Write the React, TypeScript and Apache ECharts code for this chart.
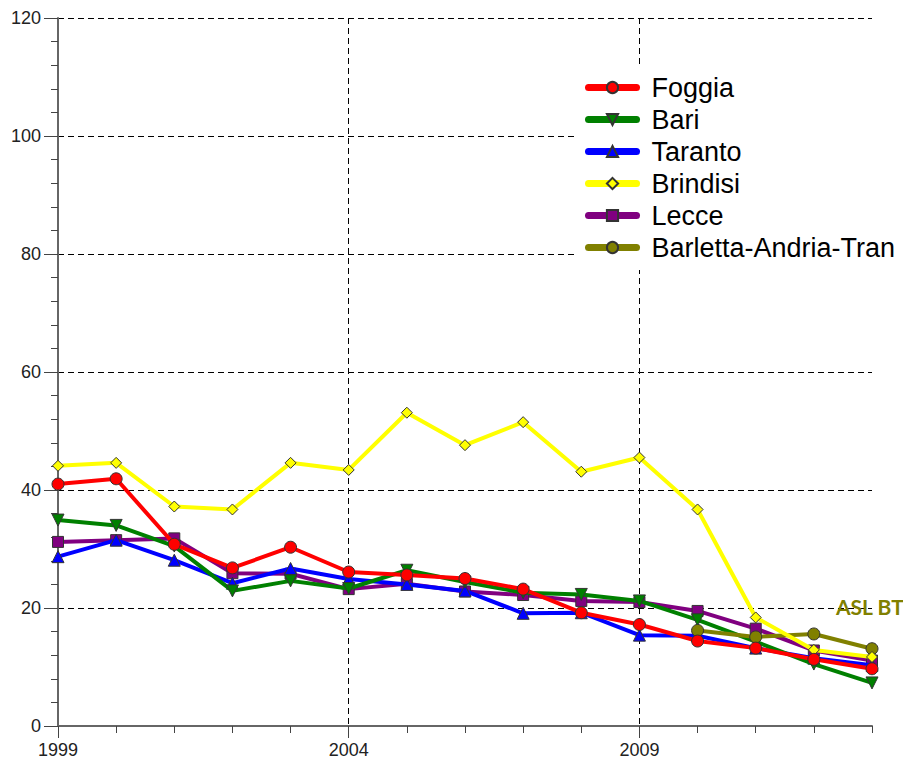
import React, { useEffect, useRef } from "react";
import * as echarts from "echarts";

const years = ["1999","2000","2001","2002","2003","2004","2005","2006","2007","2008","2009","2010","2011","2012","2013"];
const foggia = [41.0, 41.9, 30.8, 26.8, 30.3, 26.1, 25.6, 25.0, 23.2, 19.2, 17.2, 14.4, 13.2, 11.3, 9.7];
const bari = [34.9, 34.0, 30.5, 22.9, 24.6, 23.3, 26.4, 24.4, 22.6, 22.3, 21.2, 18.0, 14.3, 10.5, 7.3];
const taranto = [28.7, 31.5, 28.1, 24.2, 26.7, 24.9, 24.0, 22.9, 19.1, 19.2, 15.4, 15.3, 13.2, 11.5, 10.3];
const brindisi = [44.1, 44.6, 37.2, 36.7, 44.6, 43.4, 53.1, 47.6, 51.5, 43.1, 45.5, 36.7, 18.4, 12.9, 11.7];
const lecce = [31.2, 31.5, 31.8, 25.9, 25.8, 23.2, 24.1, 22.8, 22.2, 21.2, 21.0, 19.5, 16.5, 12.8, 11.1];
const bat = [null, null, null, null, null, null, null, null, null, null, null, 16.2, 15.1, 15.6, 13.1];
const yTicks = { min: 0, max: 120, interval: 20 };
const annotation = "ASL BT";

const FONT = "'Liberation Sans', Arial, sans-serif";

export default function App() {
  const ref = useRef<HTMLDivElement>(null);
  useEffect(() => {
    if (!ref.current) return;
    const chart = echarts.init(ref.current, undefined, { renderer: "svg" });
    const mk = (name: string, data: (number | null)[], color: string, symbol: string, size: number, z: number) => ({
      name,
      type: "line",
      data,
      z,
      xAxisIndex: 0,
      symbol,
      symbolSize: size,
      showAllSymbol: true,
      connectNulls: false,
      lineStyle: { color, width: 4 },
      itemStyle: { color, borderColor: "#333", borderWidth: 1 },
      emphasis: { disabled: true },
    });
    chart.setOption({
      animation: false,
      grid: { left: 58, right: 31, top: 18, bottom: 39 },
      legend: {
        orient: "vertical",
        left: 577,
        top: 65,
        padding: [9, 40, 9, 8],
        backgroundColor: "#fff",
        z: 10,
        itemWidth: 48,
        itemHeight: 14,
        itemGap: 5,
        textStyle: {
          fontSize: 27,
          fontFamily: FONT,
          color: "#000",
          padding: [0, 0, 0, 10],
          width: 248,
          overflow: "truncate",
          ellipsis: "",
        },
        lineStyle: { width: 7, cap: "round" },
        data: ["Foggia", "Bari", "Taranto", "Brindisi", "Lecce", "Barletta-Andria-Trani"],
      },
      xAxis: [
        {
          type: "category",
          data: years,
          boundaryGap: false,
          axisLine: { lineStyle: { color: "#666", width: 2 } },
          axisTick: { interval: 0, length: 7, lineStyle: { color: "#444", width: 1 } },
          axisLabel: {
            interval: (i: number) => i % 5 === 0,
            fontSize: 18,
            fontFamily: FONT,
            color: "#222",
            margin: 15,
          },
          splitLine: {
            show: true,
            interval: (i: number) => i % 5 === 0 && i > 0,
            lineStyle: { color: "#000", type: [6, 4], width: 1 },
          },
        },
        {
          type: "category",
          data: years,
          boundaryGap: false,
          position: "bottom",
          axisLine: { show: false },
          axisTick: { interval: (i: number) => i % 5 === 0, length: 12, lineStyle: { color: "#444", width: 1 } },
          axisLabel: { show: false },
          splitLine: { show: false },
        },
      ],
      yAxis: {
        type: "value",
        min: yTicks.min,
        max: yTicks.max,
        interval: yTicks.interval,
        axisLine: { show: true, lineStyle: { color: "#666", width: 2 } },
        axisTick: { show: true, length: 14, lineStyle: { color: "#444", width: 1 } },
        minorTick: { show: true, splitNumber: 5, length: 7, lineStyle: { color: "#444", width: 1 } },
        axisLabel: { fontSize: 18, fontFamily: FONT, color: "#222", margin: 17 },
        splitLine: { show: true, lineStyle: { color: "#000", type: [6, 4], width: 1 } },
      },
      series: [
        mk("Foggia", foggia, "#ff0000", "circle", 12, 8),
        mk("Bari", bari, "#008000", "triangle", 12, 5),
        mk("Taranto", taranto, "#0000ff", "triangle", 12, 4),
        mk("Brindisi", brindisi, "#ffff00", "diamond", 11, 7),
        mk("Lecce", lecce, "#800080", "rect", 11, 3),
        mk("Barletta-Andria-Trani", bat, "#808000", "circle", 12, 6),
      ].map((s: any) => (s.name === "Bari" ? { ...s, symbolRotate: 180 } : s)),
      graphic: [
        {
          type: "text",
          x: 836,
          y: 606,
          z: 20,
          style: {
            text: annotation,
            fill: "#808000",
            font: "bold 21px Lato, 'Open Sans', sans-serif",
            textVerticalAlign: "middle",
          },
        },
      ],
    });
    return () => chart.dispose();
  }, []);
  return <div ref={ref} style={{ position: "absolute", left: 0, top: 0, width: 903, height: 765 }} />;
}
